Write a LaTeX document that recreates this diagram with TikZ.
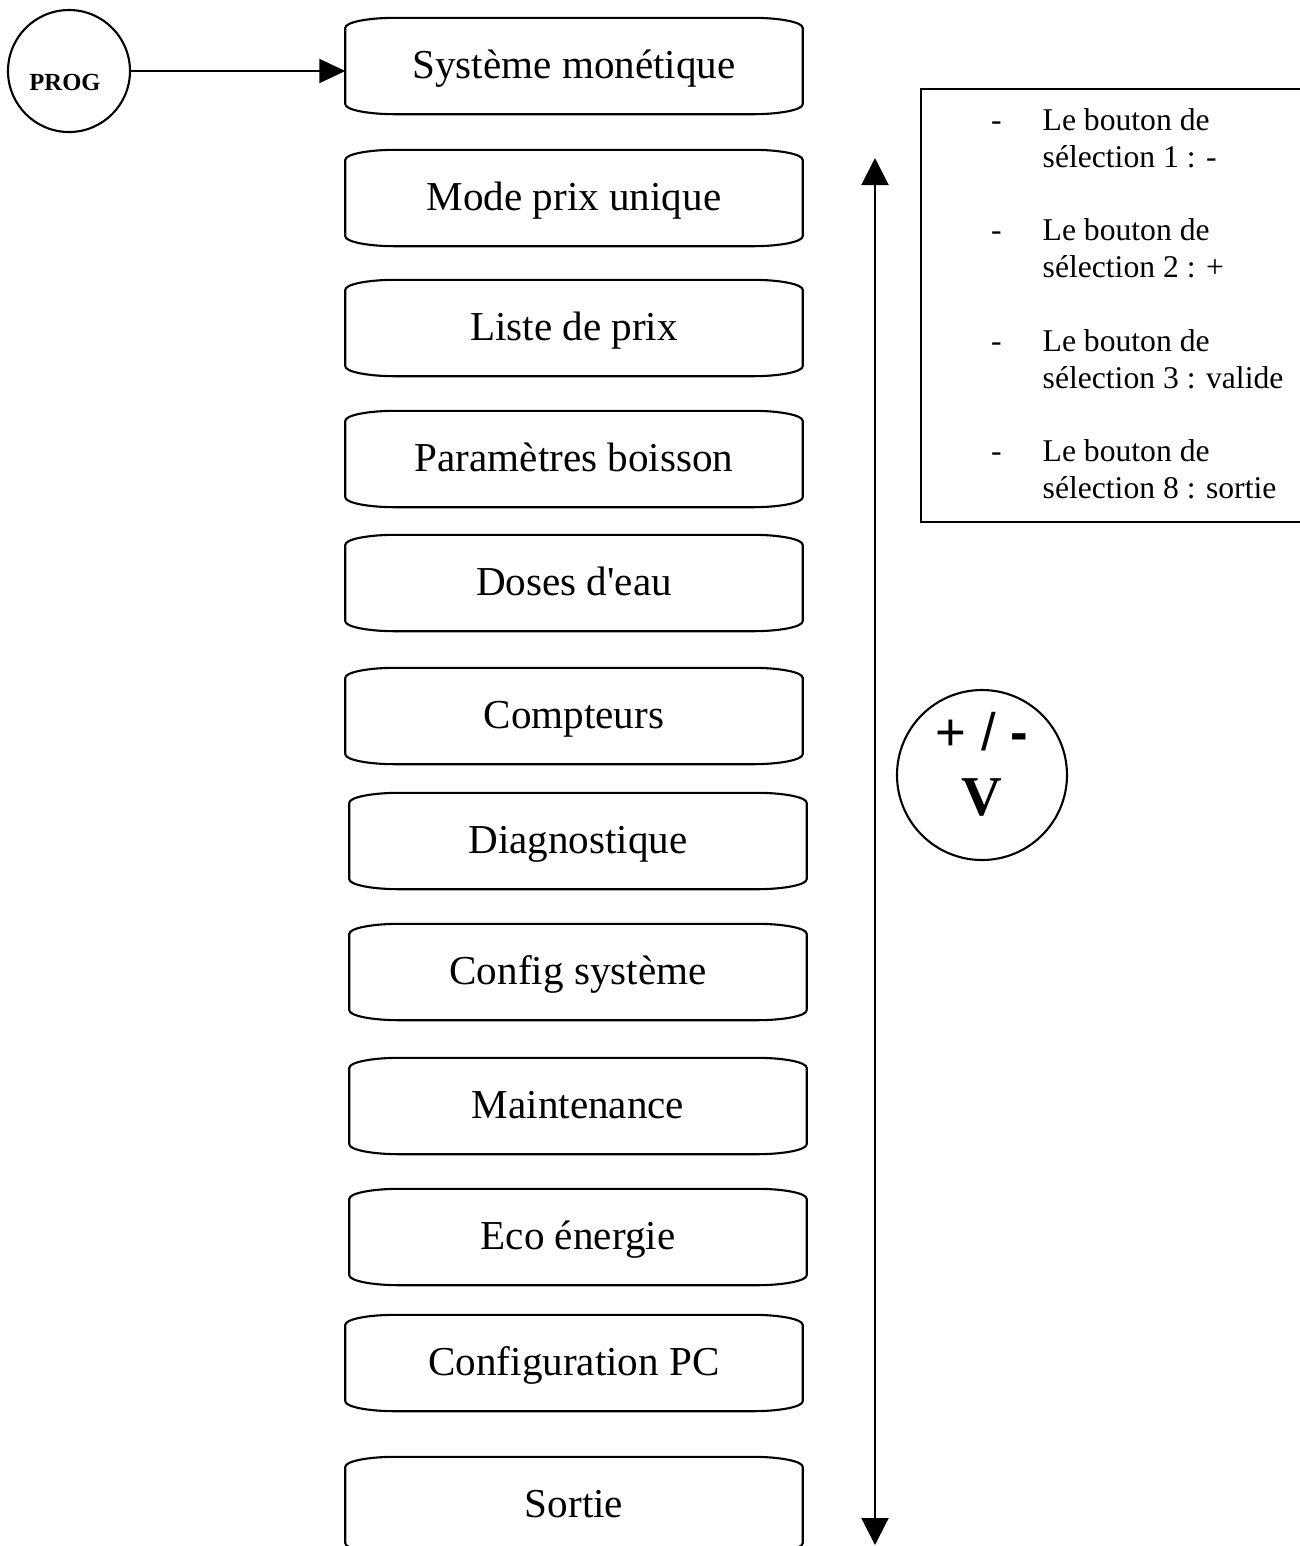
\documentclass[tikz,border=0pt]{standalone}
\usepackage{fontspec}
\setmainfont{Liberation Serif}[Ligatures=TeXOff]
\newfontfamily\arialfont{Liberation Sans}
\usetikzlibrary{arrows.meta,calc}

\begin{document}
\begin{tikzpicture}[
  menu/.style={minimum width=4.56cm,minimum height=0.95cm,inner sep=0pt,text height=3mm,text depth=0.5mm,font=\fontsize{11.7}{14}\selectfont},
  rond/.style={circle,draw,line width=0.6pt,inner sep=0pt},
  item/.style={anchor=base west,align=left,inner sep=0pt,font=\fontsize{9}{10.5}\selectfont},
  tiret/.style={anchor=base,inner sep=0pt,font=\fontsize{9}{10.5}\selectfont},
  ar/.style={-{Triangle[length=2.6mm,width=2.4mm]},line width=0.6pt},
  fl/.style={{Triangle[length=2.7mm,width=2.7mm]}-{Triangle[length=2.7mm,width=2.7mm]},line width=0.6pt}]

  \useasboundingbox (0,0) rectangle (13,-15.46);

  % PROG
  \node[rond,minimum size=1.22cm] (prog) at (0.69,-0.71) {};
  \node[anchor=base,inner sep=0pt,font=\bfseries\fontsize{7}{8}\selectfont] (progtxt) at (0.65,-0.90) {PROG};

  % menu
  \node[menu] (sys)    at (5.74,-0.66)  {Système monétique};
  \node[menu] (mode)   at (5.74,-1.98)  {Mode prix unique};
  \node[menu] (liste)  at (5.74,-3.28)  {Liste de prix};
  \node[menu] (param)  at (5.74,-4.59)  {Paramètres boisson};
  \node[menu] (doses)  at (5.74,-5.83)  {Doses d'eau};
  \node[menu] (compt)  at (5.74,-7.16)  {Compteurs};
  \node[menu] (diag)   at (5.78,-8.41)  {Diagnostique};
  \node[menu] (config) at (5.78,-9.72)  {Config système};
  \node[menu] (maint)  at (5.78,-11.06) {Maintenance};
  \node[menu] (eco)    at (5.78,-12.37) {Eco énergie};
  \node[menu] (pc)     at (5.74,-13.63) {Configuration PC};
  \node[menu] (sortie) at (5.74,-15.05) {Sortie};

  \foreach \n in {sys,mode,liste,param,doses,compt,diag,config,maint,eco,pc,sortie}
    \draw[line width=0.6pt] ([yshift=-1mm]\n.north west) arc[start angle=180,end angle=90,x radius=5mm,y radius=1mm]
      -- ([xshift=-5mm]\n.north east) arc[start angle=90,end angle=0,x radius=5mm,y radius=1mm]
      -- ([yshift=1mm]\n.south east) arc[start angle=0,end angle=-90,x radius=5mm,y radius=1mm]
      -- ([xshift=5mm]\n.south west) arc[start angle=270,end angle=180,x radius=5mm,y radius=1mm]
      -- cycle;

  \draw[ar] (prog.east) -- (sys.west |- prog.east);

  % navigation
  \coordinate (haut) at (8.75,-1.58);
  \coordinate (bas)  at (8.75,-15.45);
  \draw[fl] (haut) -- (bas);

  \node[rond,minimum size=1.70cm] (nav) at (9.82,-7.75) {};
  \node[anchor=base,inner sep=0pt,font=\arialfont\fontsize{15}{17}\selectfont] (plusmoins) at (9.82,-7.50) {+ / \textbf{-}};
  \node[anchor=base,inner sep=0pt,font=\bfseries\fontsize{16}{18}\selectfont] (valide) at (9.82,-8.15) {V};

  % legende
  \node[draw,line width=0.6pt,minimum width=3.81cm,minimum height=4.33cm,inner sep=0pt] (legende) at (11.115,-3.055) {};
  \node[tiret] (d1) at (9.965,-1.30) {-};
  \node[item]  (l1) at (10.42,-1.67) {Le bouton de\\sélection 1 : -};
  \node[tiret] (d2) at (9.965,-2.40) {-};
  \node[item]  (l2) at (10.42,-2.77) {Le bouton de\\sélection 2 : +};
  \node[tiret] (d3) at (9.965,-3.51) {-};
  \node[item]  (l3) at (10.42,-3.88) {Le bouton de\\sélection 3 : valide};
  \node[tiret] (d4) at (9.965,-4.61) {-};
  \node[item]  (l4) at (10.42,-4.98) {Le bouton de\\sélection 8 : sortie};
\end{tikzpicture}
\end{document}
